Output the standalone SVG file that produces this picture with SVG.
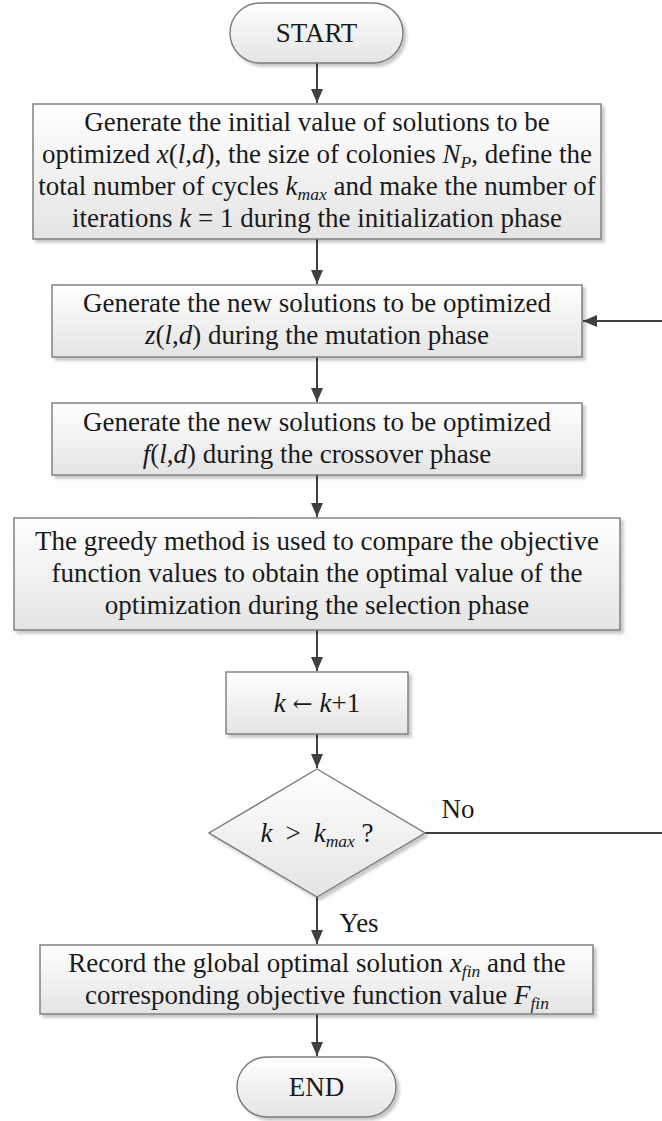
<svg xmlns="http://www.w3.org/2000/svg" width="662" height="1121" viewBox="0 0 662 1121">
<defs>
<linearGradient id="g" x1="0" y1="0" x2="0" y2="1">
<stop offset="0" stop-color="#ffffff"/>
<stop offset="1" stop-color="#e4e4e4"/>
</linearGradient>
<filter id="sh" x="-5%" y="-5%" width="112%" height="125%">
<feDropShadow dx="3" dy="3" stdDeviation="1.5" flood-color="#000" flood-opacity="0.22"/>
</filter>
<marker id="ah" markerUnits="userSpaceOnUse" markerWidth="14" markerHeight="12" refX="14" refY="6" orient="auto">
<path d="M0,0 L14,6 L0,12 z" fill="#404040"/>
</marker>
</defs>
<style>
.n{fill:url(#g);stroke:#7a7a7a;stroke-width:1.4;filter:url(#sh)}
.t{font-family:"Liberation Serif","Times New Roman",serif;font-size:27px;fill:#1a1a1a;text-anchor:middle}
.i{font-style:italic}
.s{font-style:italic;font-size:17.5px}
.a{font-family:"DejaVu Serif","Liberation Serif",serif;font-size:24px}
.c{fill:none;stroke:#404040;stroke-width:2}
</style>
<g id="connectors">
<path class="c" d="M317,63 V103" marker-end="url(#ah)"/>
<path class="c" d="M317,239 V284" marker-end="url(#ah)"/>
<path class="c" d="M317,357 V402" marker-end="url(#ah)"/>
<path class="c" d="M317,475 V517" marker-end="url(#ah)"/>
<path class="c" d="M317,630 V671" marker-end="url(#ah)"/>
<path class="c" d="M317,734 V768" marker-end="url(#ah)"/>
<path class="c" d="M317,897 V944" marker-end="url(#ah)"/>
<path class="c" d="M317,1014 V1056" marker-end="url(#ah)"/>
<path class="c" d="M425,833 H680 V321 H583" marker-end="url(#ah)"/>
<text class="t" x="458" y="818">No</text>
<text class="t" x="359" y="932">Yes</text>
</g>
<g id="start">
<rect class="n" x="230" y="3" width="173" height="60" rx="30"/>
<text class="t" x="316.5" y="42">START</text>
</g>
<g id="init">
<rect class="n" x="33" y="104" width="568" height="135"/>
<text class="t" x="317" y="131">Generate the initial value of solutions to be</text>
<text class="t" x="317" y="163">optimized <tspan class="i">x</tspan>(<tspan class="i">l</tspan>,<tspan class="i">d</tspan>), the size of colonies <tspan class="i">N</tspan><tspan class="s" dy="5">P</tspan><tspan dy="-5">, define the</tspan></text>
<text class="t" x="317" y="195">total number of cycles <tspan class="i">k</tspan><tspan class="s" dy="5">max</tspan><tspan dy="-5"> and make the number of</tspan></text>
<text class="t" x="317" y="227">iterations <tspan class="i">k</tspan> = 1 during the initialization phase</text>
</g>
<g id="mutation">
<rect class="n" x="52" y="285" width="530" height="72"/>
<text class="t" x="317" y="312">Generate the new solutions to be optimized</text>
<text class="t" x="317" y="344"><tspan class="i">z</tspan>(<tspan class="i">l</tspan>,<tspan class="i">d</tspan>) during the mutation phase</text>
</g>
<g id="crossover">
<rect class="n" x="52" y="403" width="530" height="72"/>
<text class="t" x="317" y="431">Generate the new solutions to be optimized</text>
<text class="t" x="317" y="463"><tspan class="i">f</tspan>(<tspan class="i">l</tspan>,<tspan class="i">d</tspan>) during the crossover phase</text>
</g>
<g id="selection">
<rect class="n" x="14" y="518" width="606" height="112"/>
<text class="t" x="317" y="550">The greedy method is used to compare the objective</text>
<text class="t" x="317" y="582">function values to obtain the optimal value of the</text>
<text class="t" x="317" y="614">optimization during the selection phase</text>
</g>
<g id="increment">
<rect class="n" x="226" y="672" width="182" height="62"/>
<text class="t" x="317" y="712"><tspan class="i">k</tspan> <tspan class="a">←</tspan> <tspan class="i">k</tspan>+1</text>
</g>
<g id="decision">
<polygon class="n" points="317,769 425,833 317,897 209,833"/>
<text class="t" x="317" y="842"><tspan class="i">k</tspan><tspan dx="13">&gt;</tspan><tspan class="i" dx="13">k</tspan><tspan class="s" dy="5">max</tspan><tspan dy="-5"> ?</tspan></text>
</g>
<g id="record">
<rect class="n" x="40" y="945" width="553" height="69"/>
<text class="t" x="317" y="972">Record the global optimal solution <tspan class="i">x</tspan><tspan class="s" dy="5">fin</tspan><tspan dy="-5"> and the</tspan></text>
<text class="t" x="317" y="1004">corresponding objective function value <tspan class="i">F</tspan><tspan class="s" dy="5">fin</tspan></text>
</g>
<g id="end">
<rect class="n" x="237" y="1057" width="159" height="60" rx="30"/>
<text class="t" x="316.5" y="1096">END</text>
</g>
</svg>
